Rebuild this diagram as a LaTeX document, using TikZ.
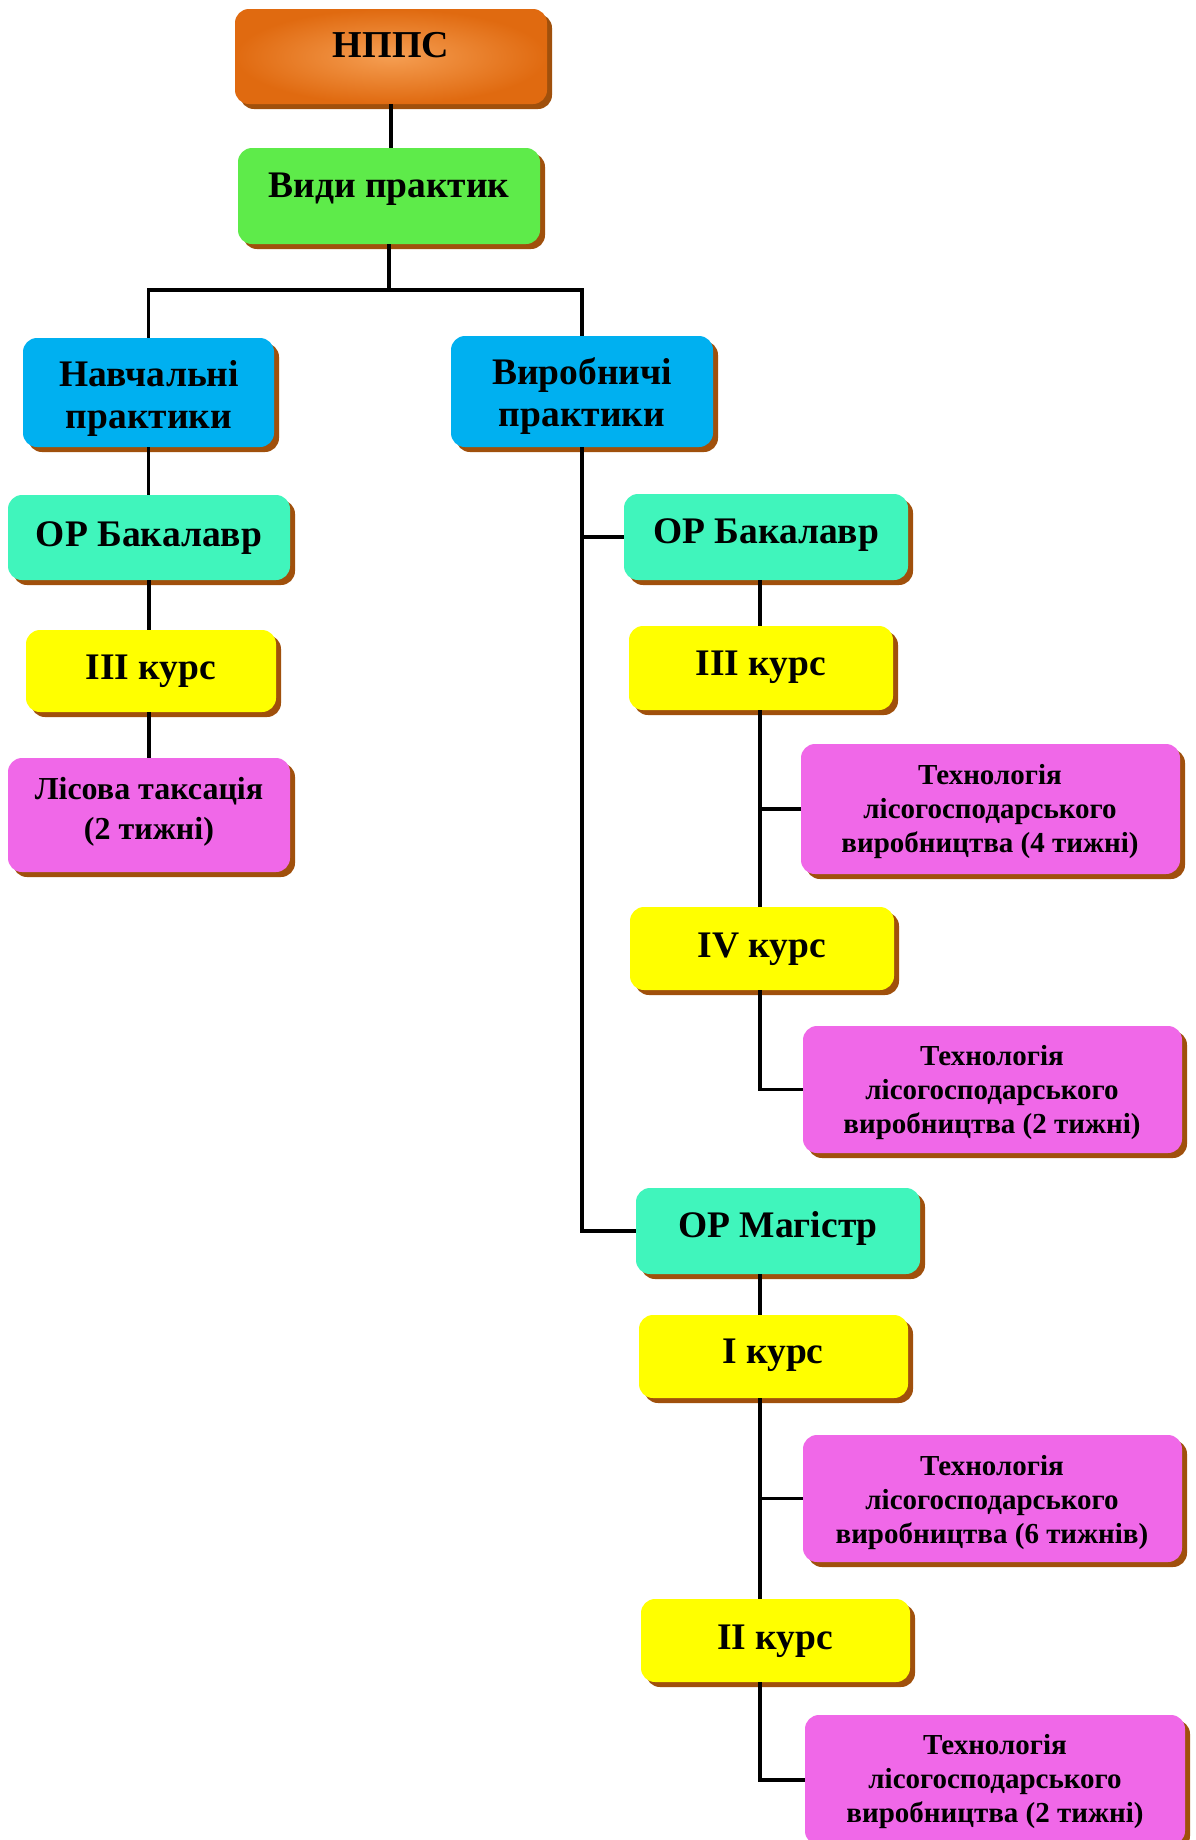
\documentclass[tikz,border=0pt]{standalone}
\usepackage{fontspec}
\setmainfont{Liberation Serif}
\definecolor{shadowc}{RGB}{160,80,12}
\definecolor{orout}{RGB}{224,106,16}
\definecolor{orin}{RGB}{245,158,82}
\definecolor{grn}{RGB}{94,235,74}
\definecolor{blu}{RGB}{0,176,240}
\definecolor{teal2}{RGB}{64,245,188}
\definecolor{yel}{RGB}{255,255,0}
\definecolor{pnk}{RGB}{240,104,232}
\tikzset{
  boxbase/.style={rectangle, rounded corners=14pt, inner sep=0pt, draw=none},
  orangebox/.style={boxbase, inner color=orin, outer color=orout},
  greenbox/.style={boxbase, fill=grn},
  bluebox/.style={boxbase, fill=blu},
  tealbox/.style={boxbase, fill=teal2},
  yellowbox/.style={boxbase, fill=yel},
  pinkbox/.style={boxbase, fill=pnk},
  conn/.style={line width=3.2pt, black},
  bigtxt/.style={font=\fontsize{37.5}{42}\selectfont\bfseries, align=center, inner sep=0pt},
  toptxt/.style={font=\fontsize{38}{44}\selectfont\bfseries, align=center, inner sep=0pt},
  midtxt/.style={font=\fontsize{32}{40}\selectfont\bfseries, align=center, inner sep=0pt},
  smalltxt/.style={font=\fontsize{29}{34}\selectfont\bfseries, align=center, inner sep=0pt},
}
% name, x1, y1, x2, y2, style
\newcommand\mybox[6]{%
  \fill[shadowc, rounded corners=14pt] (#2+5,#3+5) rectangle (#4+5,#5+5);
  \node[#6, minimum width={(#4-#2)*1pt}, minimum height={(#5-#3)*1pt}] (#1) at ({(#2+#4)/2},{(#3+#5)/2}) {};
}
\begin{document}
\begin{tikzpicture}[x=1pt, y=-1pt]
\useasboundingbox (0,0) rectangle (1195,1840);
\clip (0,0) rectangle (1195,1840);
\fill[white] (0,0) rectangle (1195,1840);

\mybox{nppc}{235}{9}{547}{104}{orangebox}
\mybox{vydy}{238}{148}{540}{244}{greenbox}
\mybox{navch}{23}{338}{274}{447}{bluebox}
\mybox{vyrob}{451}{336}{713}{447}{bluebox}
\mybox{bakL}{8}{495}{290}{580}{tealbox}
\mybox{kIIIL}{26}{630}{276}{712}{yellowbox}
\mybox{lis}{8}{758}{290}{872}{pinkbox}
\mybox{bakR}{624}{494}{908}{580}{tealbox}
\mybox{kIIIR}{629}{626}{893}{710}{yellowbox}
\mybox{tfour}{801}{744}{1180}{874}{pinkbox}
\mybox{kIV}{630}{907}{894}{990}{yellowbox}
\mybox{ttwoa}{803}{1026}{1182}{1153}{pinkbox}
\mybox{mag}{636}{1188}{920}{1274}{tealbox}
\mybox{kI}{639}{1315}{908}{1398}{yellowbox}
\mybox{tsix}{803}{1435}{1182}{1562}{pinkbox}
\mybox{kII}{641}{1599}{910}{1682}{yellowbox}
\mybox{ttwob}{805}{1715}{1185}{1845}{pinkbox}

% texts
\node[toptxt] (nppcT) at (391,45) {НППС};
\node[bigtxt] (vydyT) at (389,189) {Види практик};
\node[bigtxt] (navchT) at (149,398) {Навчальні\\практики};
\node[bigtxt] (vyrobT) at (582,396) {Виробничі\\практики};
\node[bigtxt] (bakLT) at (149,538) {ОР Бакалавр};
\node[bigtxt] (kIIILT) at (151,671) {ІІІ курс};
\node[midtxt] (lisT) at (149,812) {Лісова таксація\\(2 тижні)};
\node[bigtxt] (bakRT) at (766,535) {ОР Бакалавр};
\node[bigtxt] (kIIIRT) at (761,667) {ІІІ курс};
\node[smalltxt] (tfourT) at (990,812) {Технологія\\лісогосподарського\\виробництва (4 тижні)};
\node[bigtxt] (kIVT) at (762,949) {IV курс};
\node[smalltxt] (ttwoaT) at (992,1093) {Технологія\\лісогосподарського\\виробництва (2 тижні)};
\node[bigtxt] (magT) at (778,1228) {ОР Магістр};
\node[bigtxt] (kIT) at (773,1355) {І курс};
\node[smalltxt] (tsixT) at (992,1503) {Технологія\\лісогосподарського\\виробництва (6 тижнів)};
\node[bigtxt] (kIIT) at (775,1641) {ІІ курс};
\node[smalltxt] (ttwobT) at (995,1782) {Технологія\\лісогосподарського\\виробництва (2 тижні)};

% connectors
\coordinate (hbar) at (0,290);
\coordinate (sp) at (760,0);
\draw[conn] (nppc.south) -- (vydy.north -| nppc.south);
\draw[conn] (vydy.south) -- (vydy.south |- hbar);
\draw[conn] (navch.north) |- (vydy.south |- hbar) -| (vyrob.north);
\draw[conn] (navch.south) -- (bakL.north -| navch.south);
\draw[conn] (bakL.south) -- (kIIIL.north -| bakL.south);
\draw[conn] (kIIIL.south -| bakL.south) -- (lis.north);
\draw[conn] (vyrob.south) -- (vyrob.south |- mag.west) -- (mag.west);
\draw[conn] (bakR.west) -- (bakR.west -| vyrob.south);
\draw[conn] (bakR.south -| sp) -- (kIIIR.north -| sp);
\draw[conn] (kIIIR.south -| sp) -- (kIV.north -| sp);
\draw[conn] (tfour.west -| sp) -- (tfour.west);
\draw[conn] (kIV.south -| sp) |- (ttwoa.west);
\draw[conn] (mag.south -| sp) -- (kI.north -| sp);
\draw[conn] (kI.south -| sp) -- (kII.north -| sp);
\draw[conn] (tsix.west -| sp) -- (tsix.west);
\draw[conn] (kII.south -| sp) |- (ttwob.west);
\end{tikzpicture}
\end{document}
